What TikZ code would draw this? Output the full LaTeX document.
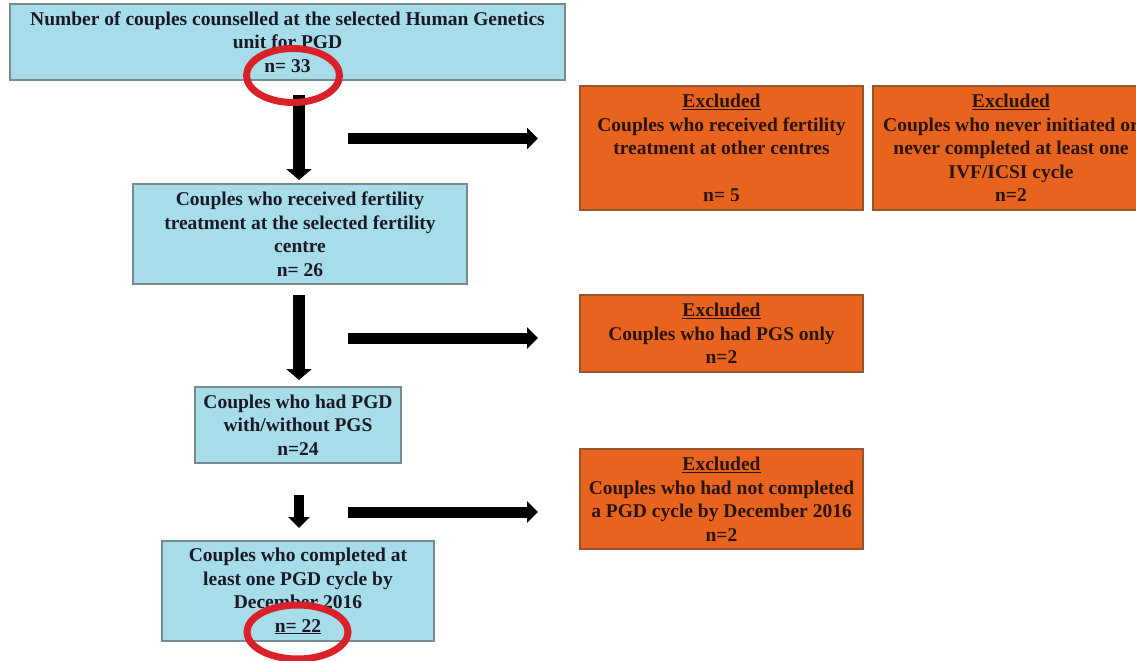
\documentclass[tikz,border=0pt]{standalone}
\usepackage{fontspec}
\setmainfont{Liberation Serif}
\usetikzlibrary{arrows.meta,shapes.geometric}
\definecolor{boxblue}{RGB}{167,220,233}
\definecolor{blueline}{RGB}{120,138,148}
\definecolor{boxorange}{RGB}{232,100,30}
\definecolor{orangeline}{RGB}{150,85,45}
\definecolor{txtdark}{RGB}{25,25,40}
\definecolor{txtbrown}{RGB}{40,20,8}
\definecolor{markred}{RGB}{218,32,40}
\tikzset{
  basebox/.style={rectangle, inner sep=0pt, align=center, line width=1.2pt,
    font=\fontsize{19.5}{23.5}\selectfont\bfseries},
  bluebox/.style={basebox, fill=boxblue, draw=blueline, text=txtdark},
  orangebox/.style={basebox, fill=boxorange, draw=orangeline, text=txtbrown},
  downarrow/.style={line width=12pt, -{Triangle[length=11pt,width=25pt]}},
  rightarrow/.style={line width=11pt, -{Triangle[length=11pt,width=21pt]}},
  redmark/.style={draw=markred, line width=7pt}
}
\begin{document}
\begin{tikzpicture}[x=1pt,y=-1pt]
\useasboundingbox (0,0) rectangle (1136,661);
\clip (0,0) rectangle (1136,661);
% blue boxes
\node[bluebox, minimum width=555pt, minimum height=76pt] (b1) at (287.5,42)
  {Number of couples counselled at the selected Human Genetics\\ unit for PGD\\ n= 33};
\node[bluebox, minimum width=334pt, minimum height=100pt] (b2) at (300,234)
  {Couples who received fertility\\ treatment at the selected fertility\\ centre\\ n= 26};
\node[bluebox, minimum width=206pt, minimum height=76pt] (b3) at (298,425)
  {Couples who had PGD\\ with/without PGS\\ n=24};
\node[bluebox, minimum width=272pt, minimum height=100pt] (b4) at (298,591)
  {Couples who completed at\\ least one PGD cycle by\\ December 2016\\ \underline{n= 22}};
% orange boxes
\node[orangebox, minimum width=283pt, minimum height=124pt] (o1) at (721.5,148)
  {\underline{Excluded}\\ Couples who received fertility\\ treatment at other centres\\[23.5pt] n= 5};
\node[orangebox, minimum width=276pt, minimum height=124pt] (o2) at (1011,148)
  {\underline{Excluded}\\ Couples who never initiated or\\ never completed at least one\\ IVF/ICSI cycle\\ n=2};
\node[orangebox, minimum width=283pt, minimum height=77pt] (o3) at (721.5,333.5)
  {\underline{Excluded}\\ Couples who had PGS only\\ n=2};
\node[orangebox, minimum width=283pt, minimum height=100pt] (o4) at (721.5,499)
  {\underline{Excluded}\\ Couples who had not completed\\ a PGD cycle by December 2016\\ n=2};
% arrow end points
\coordinate (d1s) at (299,95);  \coordinate (d1e) at (299,180);
\coordinate (d2s) at (299,295); \coordinate (d2e) at (299,380);
\coordinate (d3s) at (299,495); \coordinate (d3e) at (299,528);
\coordinate (r1s) at (348,138.5); \coordinate (r1e) at (538,138.5);
\coordinate (r2s) at (348,338);   \coordinate (r2e) at (538,338);
\coordinate (r3s) at (348,512);   \coordinate (r3e) at (538,512);
\draw[downarrow] (d1s) -- (d1e);
\draw[downarrow] (d2s) -- (d2e);
\draw[downarrow, line width=10pt, -{Triangle[length=11pt,width=21pt]}] (d3s) -- (d3e);
\draw[rightarrow] (r1s) -- (r1e);
\draw[rightarrow] (r2s) -- (r2e);
\draw[rightarrow] (r3s) -- (r3e);
% red highlight ellipses
\node[redmark, ellipse, minimum width=93pt, minimum height=54pt, inner sep=0pt] (e1) at (293,75.5) {};
\node[redmark, ellipse, minimum width=101pt, minimum height=54pt, inner sep=0pt] (e2) at (297.5,632) {};
\end{tikzpicture}
\end{document}
